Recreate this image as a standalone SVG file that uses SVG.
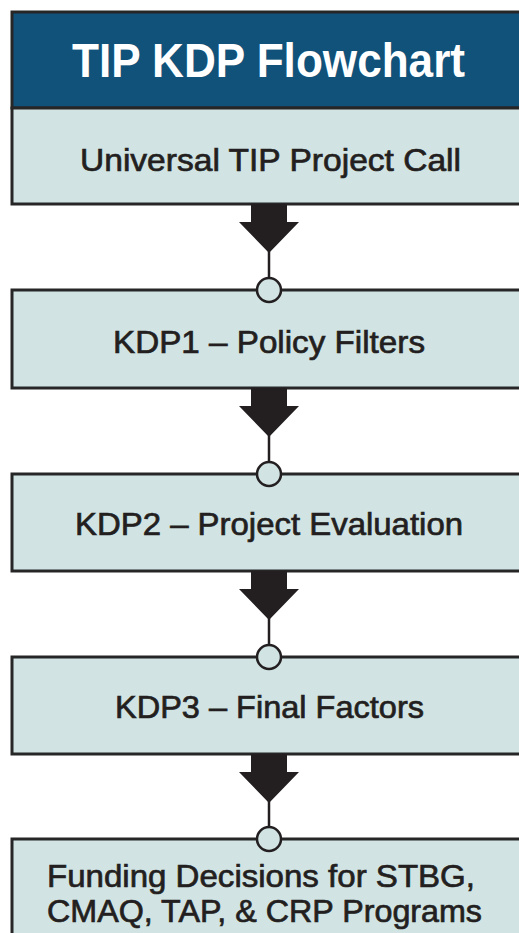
<svg xmlns="http://www.w3.org/2000/svg" width="519" height="933" viewBox="0 0 519 933">
  <style>
    .box { fill: #d1e3e3; stroke: #262626; stroke-width: 3; }
    .hdr { fill: #10527a; stroke: #262626; stroke-width: 3; }
    .lbl { font-family: "Liberation Sans", Arial, sans-serif; font-size: 32px; fill: #231f20; stroke: #231f20; stroke-width: 0.7; }
    .ttl { font-family: "Liberation Sans", Arial, sans-serif; font-size: 48px; font-weight: bold; fill: #ffffff; }
    .arr { fill: #231f20; }
    .stem { stroke: #231f20; stroke-width: 2.5; fill: none; }
    .dot { fill: #d1e3e3; stroke: #231f20; stroke-width: 2.5; }
  </style>
  <rect width="519" height="933" fill="#ffffff"/>

  <g id="header">
    <rect class="hdr" x="12" y="12" width="530" height="96"/>
    <text class="ttl" x="72" y="77" textLength="393" lengthAdjust="spacingAndGlyphs">TIP KDP Flowchart</text>
  </g>

  <g id="node-call">
    <rect class="box" x="12" y="108" width="530" height="96"/>
    <text class="lbl" x="80" y="171" textLength="381" lengthAdjust="spacingAndGlyphs">Universal TIP Project Call</text>
  </g>

  <g id="node-kdp1">
    <rect class="box" x="12" y="290" width="530" height="98"/>
    <text class="lbl" x="113" y="353" textLength="312" lengthAdjust="spacingAndGlyphs">KDP1 – Policy Filters</text>
  </g>

  <g id="node-kdp2">
    <rect class="box" x="12" y="474" width="530" height="97"/>
    <text class="lbl" x="75" y="535" textLength="388" lengthAdjust="spacingAndGlyphs">KDP2 – Project Evaluation</text>
  </g>

  <g id="node-kdp3">
    <rect class="box" x="12" y="657" width="530" height="97"/>
    <text class="lbl" x="115" y="718" textLength="309" lengthAdjust="spacingAndGlyphs">KDP3 – Final Factors</text>
  </g>

  <g id="node-funding">
    <rect class="box" x="12" y="839" width="530" height="120"/>
    <text class="lbl" x="47" y="887" textLength="428" lengthAdjust="spacingAndGlyphs">Funding Decisions for STBG,</text>
    <text class="lbl" x="47" y="922" textLength="435" lengthAdjust="spacingAndGlyphs">CMAQ, TAP, &amp; CRP Programs</text>
  </g>

  <g id="connectors">
    <g id="c1">
      <polygon class="arr" points="251,204 287,204 287,222 299,222 269,253 239,222 251,222"/>
      <line class="stem" x1="269" y1="250" x2="269" y2="278"/>
      <circle class="dot" cx="269" cy="290" r="12"/>
    </g>
    <g id="c2">
      <polygon class="arr" points="251,388 287,388 287,406 299,406 269,437 239,406 251,406"/>
      <line class="stem" x1="269" y1="434" x2="269" y2="462"/>
      <circle class="dot" cx="269" cy="474" r="12"/>
    </g>
    <g id="c3">
      <polygon class="arr" points="251,571 287,571 287,589 299,589 269,620 239,589 251,589"/>
      <line class="stem" x1="269" y1="617" x2="269" y2="645"/>
      <circle class="dot" cx="269" cy="657" r="12"/>
    </g>
    <g id="c4">
      <polygon class="arr" points="251,754 287,754 287,772 299,772 269,803 239,772 251,772"/>
      <line class="stem" x1="269" y1="800" x2="269" y2="827"/>
      <circle class="dot" cx="269" cy="839" r="12"/>
    </g>
  </g>
</svg>
